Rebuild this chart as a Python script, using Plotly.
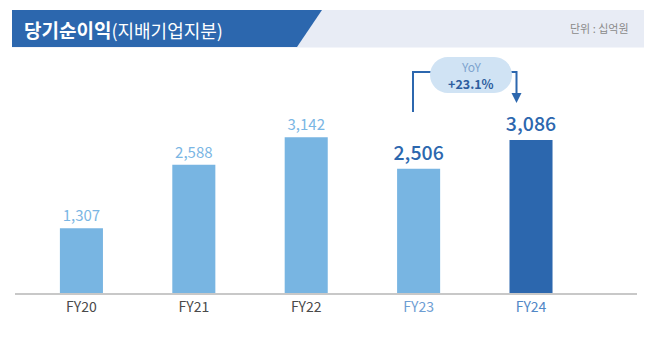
import plotly.graph_objects as go

# --- data -------------------------------------------------------------
years = ["FY20", "FY21", "FY22", "FY23", "FY24"]
net_income = [1307, 2588, 3142, 2506, 3086]      # 십억원
yoy_label = "+23.1%"

# --- styling per bar --------------------------------------------------
LIGHT = "#78b5e2"
DARK = "#2c67ae"
bar_colors = [LIGHT, LIGHT, LIGHT, LIGHT, DARK]
label_colors = ["#7ab6e4", "#7ab6e4", "#7ab6e4", DARK, DARK]
label_sizes = [15, 15, 15, 19.5, 19.5]
label_weights = [400, 400, 400, 500, 500]
tick_colors = ["#4a4a4a", "#4a4a4a", "#4a4a4a", "#6d9dd3", "#5187c6"]

W, H = 649, 344
ML, MR, MT, MB = 15, 12, 50, 51
PW, PH = W - ML - MR, H - MT - MB
FONT = "Noto Sans CJK KR"


def px(x):
    return (x - ML) / PW


def py(y):
    return (H - MB - y) / PH


fig = go.Figure(
    go.Bar(
        x=years,
        y=net_income,
        width=0.383,
        marker=dict(color=bar_colors, line=dict(width=0)),
        texttemplate="%{y:,}",
        textposition="outside",
        constraintext="none",
        cliponaxis=False,
        textfont=dict(family=FONT, color=label_colors, size=label_sizes,
                      weight=label_weights),
        hoverinfo="skip",
    )
)

ticktext = [f"<span style='color:{c}'>{t}</span>" for t, c in zip(years, tick_colors)]

shapes = [
    # header band
    dict(type="rect", xref="paper", yref="paper",
         x0=px(12), x1=px(644), y0=py(47.5), y1=py(10),
         fillcolor="#e8ecf5", line=dict(width=0), layer="below"),
    dict(type="path", xref="paper", yref="paper",
         path=f"M {px(12)},{py(10)} L {px(322)},{py(10)} L {px(297)},{py(47)} L {px(12)},{py(47)} Z",
         fillcolor="#2c67ae", line=dict(width=0), layer="below"),
    # YoY bracket
    dict(type="path", xref="paper", yref="paper",
         path=f"M {px(413)},{py(112)} L {px(413)},{py(72)} L {px(516.5)},{py(72)} L {px(516.5)},{py(94)}",
         line=dict(color="#2c67ae", width=2)),
    dict(type="path", xref="paper", yref="paper",
         path=f"M {px(511.5)},{py(93)} L {px(521.5)},{py(93)} L {px(516.5)},{py(103)} Z",
         fillcolor="#2c67ae", line=dict(width=0)),
    # YoY pill
    dict(type="path", xref="paper", yref="paper",
         xsizemode="pixel", ysizemode="pixel",
         xanchor=px(471), yanchor=py(75),
         path=("M -23,-18 L 23,-18 C 33,-18 41,-10 41,0 C 41,10 33,18 23,18 "
               "L -23,18 C -33,18 -41,10 -41,0 C -41,-10 -33,-18 -23,-18 Z"),
         fillcolor="#d0e3f4", line=dict(width=0)),
]

annotations = [
    dict(xref="paper", yref="paper", x=px(22), y=py(29), xanchor="left", yanchor="middle",
         text="<b>당기순이익</b><span style='font-size:18px'>(지배기업지분)</span>",
         showarrow=False, font=dict(family=FONT, size=19, color="white")),
    dict(xref="paper", yref="paper", x=px(631), y=py(28), xanchor="right", yanchor="middle",
         text="단위 : 십억원", showarrow=False,
         font=dict(family=FONT, size=11, color="#8a8a8a")),
    dict(xref="paper", yref="paper", x=px(471), y=py(66.5), xanchor="center", yanchor="middle",
         text="YoY", showarrow=False, font=dict(family=FONT, size=12, color="#7fa3cf")),
    dict(xref="paper", yref="paper", x=px(471), y=py(83), xanchor="center", yanchor="middle",
         text=f"<b>{yoy_label}</b>", showarrow=False,
         font=dict(family=FONT, size=12.5, color="#2d5e9f")),
]

fig.update_layout(
    width=W, height=H,
    margin=dict(l=ML, r=MR, t=MT, b=MB),
    paper_bgcolor="white", plot_bgcolor="white",
    showlegend=False,
    shapes=shapes,
    annotations=annotations,
    xaxis=dict(
        type="category", range=[-0.591, 4.943],
        tickmode="array", tickvals=years, ticktext=ticktext,
        tickfont=dict(family=FONT, size=14, color="#4a4a4a"),
        showline=True, linecolor="#c8c8c8", linewidth=1.5,
        showgrid=False, zeroline=False, ticks="", fixedrange=True,
    ),
    yaxis=dict(range=[0, 4900], visible=False, showgrid=False, zeroline=False,
               fixedrange=True),
)

fig.write_html("out.html", config={"displayModeBar": False})
